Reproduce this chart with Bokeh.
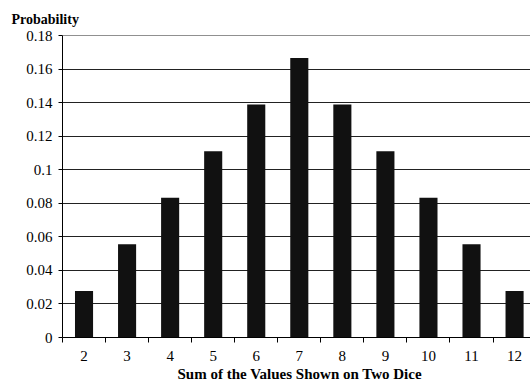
from bokeh.plotting import figure
from bokeh.models import Range1d, FixedTicker, CustomJSTickFormatter, Title, ColumnDataSource
from bokeh.embed import file_html
from bokeh.resources import INLINE

sums = [2, 3, 4, 5, 6, 7, 8, 9, 10, 11, 12]
probs = [0.0278, 0.0556, 0.0833, 0.1111, 0.1389, 0.1667, 0.1389, 0.1111, 0.0833, 0.0556, 0.0278]
y_ticks = [0, 0.02, 0.04, 0.06, 0.08, 0.1, 0.12, 0.14, 0.16, 0.18]
y_title = "Probability"
x_title = "Sum of the Values Shown on Two Dice"

FONT = "Liberation Serif"

src = ColumnDataSource(dict(x=sums, top=probs))

p = figure(width=530, height=381, output_backend="svg", toolbar_location=None,
           x_range=Range1d(1.5, 12.37), y_range=Range1d(0, 0.1801),
           min_border_left=62, min_border_right=0, min_border_top=35, min_border_bottom=40)
p.outline_line_color = None
p.background_fill_color = "white"
p.border_fill_color = "white"

p.vbar(x="x", top="top", width=0.42, bottom=0, source=src, fill_color="#111111", line_color=None)

# x axis: labels at centres, ticks at category boundaries
p.xaxis.ticker = FixedTicker(ticks=sums, minor_ticks=[s - 0.5 for s in sums] + [sums[-1] + 0.5])
p.xaxis.major_tick_out = 0
p.xaxis.major_tick_in = 0
p.xaxis.minor_tick_out = 5
p.xaxis.minor_tick_in = 0
p.xaxis.minor_tick_line_color = "black"
p.xaxis.axis_line_color = "black"
p.xaxis.major_label_standoff = 8
p.xaxis.major_label_text_font = FONT
p.xaxis.major_label_text_font_size = "15px"
p.xaxis.major_label_text_color = "black"
p.xgrid.grid_line_color = None

# y axis
p.yaxis.ticker = FixedTicker(ticks=y_ticks, minor_ticks=[])
p.yaxis.formatter = CustomJSTickFormatter(code="""
let s = tick.toFixed(2);
s = s.replace(/0+$/, '').replace(/\\.$/, '');
return s;
""")
p.yaxis.major_tick_out = 4
p.yaxis.major_tick_in = 0
p.yaxis.minor_tick_line_color = None
p.yaxis.axis_line_color = "black"
p.yaxis.major_label_standoff = 6
p.yaxis.major_label_text_font = FONT
p.yaxis.major_label_text_font_size = "15px"
p.yaxis.major_label_text_color = "black"
p.ygrid.grid_line_color = "#222222"
p.ygrid.grid_line_width = 1
p.ygrid.ticker = FixedTicker(ticks=y_ticks)

t_top = Title(text=y_title, align="left", offset=-51, standoff=17, text_font=FONT,
              text_font_size="14px", text_font_style="bold", text_color="black")
p.add_layout(t_top, "above")

t_bot = Title(text=x_title, align="left", offset=115, standoff=0, text_font=FONT,
              text_font_size="15px", text_font_style="bold", text_color="black")
p.add_layout(t_bot, "below")

open("out.html", "w").write(file_html(p, INLINE))
